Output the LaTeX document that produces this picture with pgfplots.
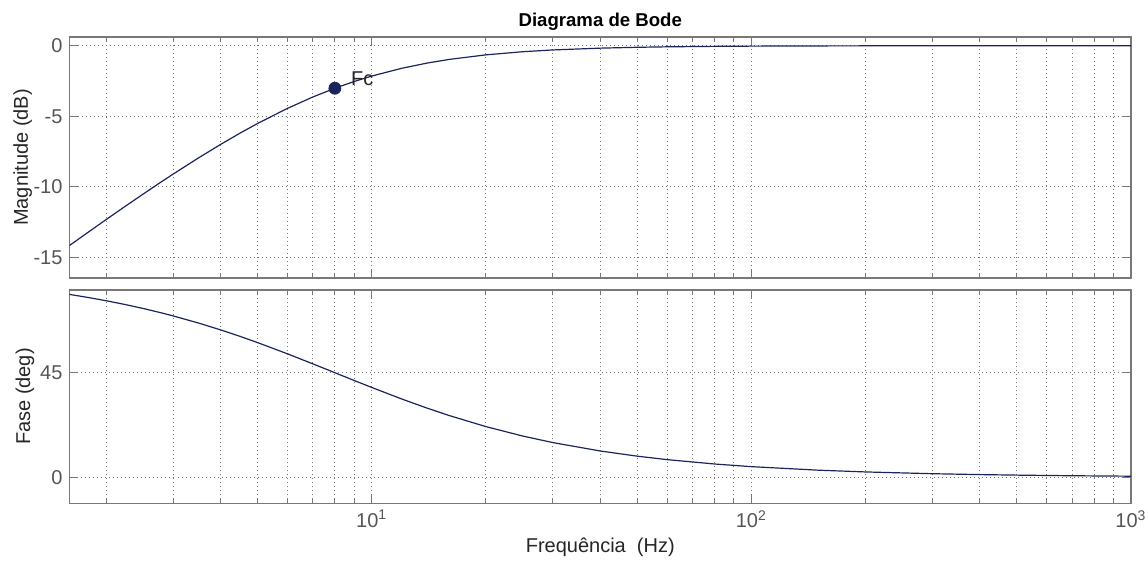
\documentclass[border=0pt]{standalone}
\usepackage{pgfplots}
\pgfplotsset{compat=1.18}
\usepackage{fontspec}
\setmainfont{Liberation Sans}
\definecolor{curve}{RGB}{28,36,92}
\definecolor{boxgray}{RGB}{120,120,120}
\definecolor{ticktext}{RGB}{85,85,85}
\definecolor{gridgray}{RGB}{115,115,115}

\pgfplotstableread{
f mag phase
1.6 -14.150 78.69
1.8 -13.170 77.32
2 -12.304 75.96
2.25 -11.349 74.29
2.5 -10.508 72.65
2.8 -9.620 70.71
3 -9.091 69.44
3.5 -7.941 66.37
4 -6.990 63.43
4.5 -6.191 60.64
5 -5.514 57.99
6 -4.437 53.13
7 -3.629 48.81
8 -3.010 45.00
9 -2.529 41.63
10 -2.148 38.66
12 -1.597 33.69
14 -1.227 29.74
16 -0.969 26.57
20 -0.645 21.80
25 -0.423 17.74
30 -0.298 14.93
40 -0.170 11.31
50 -0.110 9.09
60 -0.0765 7.59
80 -0.0432 5.71
100 -0.0277 4.57
150 -0.0123 3.05
200 -0.0069 2.29
300 -0.0031 1.53
400 -0.0017 1.15
500 -0.0011 0.92
700 -0.0006 0.65
1000 -0.0003 0.46
}\bode

\begin{document}
\begin{tikzpicture}
\useasboundingbox (0,0) rectangle (574pt,280.5pt);

\begin{axis}[
  scale only axis,
  width=530.75pt,
  xmode=log,
  xmin=1.6, xmax=1000,
  xtick={10,100,1000},
  minor xtick={2,3,4,5,6,7,8,9,20,30,40,50,60,70,80,90,200,300,400,500,600,700,800,900},
  xmajorgrids, xminorgrids, ymajorgrids,
  grid style={gridgray, line width=0.5pt, dash pattern=on 0.5pt off 1.5pt},
  minor grid style={gridgray, line width=0.5pt, dash pattern=on 0.5pt off 1.5pt},
  axis line style={boxgray, line width=0.6pt},
  every tick/.style={boxgray, line width=0.5pt},
  tick align=inside,
  xtick pos=both, ytick pos=both,
  major tick length=4.5pt, minor tick length=2.7pt,
  tick label style={font=\fontsize{10}{12}\selectfont, text=ticktext},
  label style={font=\fontsize{10}{12}\selectfont, text=black!85},
  at={(34.75pt,141.5pt)}, anchor=south west,
  height=120.5pt,
  ymin=-16.45, ymax=0.62,
  ytick={-15,-10,-5,0},
  yticklabels={-15,-10,-5,0},
  xticklabels={},
  ylabel={Magnitude (dB)},
  ylabel style={at={(axis description cs:-0.0441,0.5)}, anchor=center, rotate=0},
  title={Diagrama de Bode},
  title style={at={(axis description cs:0.5,1)}, anchor=base, yshift=-0.85pt, font=\fontsize{9.3}{11}\selectfont\bfseries},
]
\addplot[curve, line width=0.6pt] table[x=f, y=mag] {\bode};
\addplot[only marks, mark=*, mark size=3pt, mark options={fill=curve, draw=curve}] coordinates {(8,-3.01)};
\node[anchor=west, xshift=4.6pt, yshift=4.6pt, font=\fontsize{10}{12}\selectfont, text=black!85] at (axis cs:8,-3.01) {Fc};
\end{axis}

\begin{axis}[
  scale only axis,
  width=530.75pt,
  xmode=log,
  xmin=1.6, xmax=1000,
  xtick={10,100,1000},
  minor xtick={2,3,4,5,6,7,8,9,20,30,40,50,60,70,80,90,200,300,400,500,600,700,800,900},
  xmajorgrids, xminorgrids, ymajorgrids,
  grid style={gridgray, line width=0.5pt, dash pattern=on 0.5pt off 1.5pt},
  minor grid style={gridgray, line width=0.5pt, dash pattern=on 0.5pt off 1.5pt},
  axis line style={boxgray, line width=0.6pt},
  every tick/.style={boxgray, line width=0.5pt},
  tick align=inside,
  xtick pos=both, ytick pos=both,
  major tick length=4.5pt, minor tick length=2.7pt,
  tick label style={font=\fontsize{10}{12}\selectfont, text=ticktext},
  label style={font=\fontsize{10}{12}\selectfont, text=black!85},
  at={(34.75pt,28.85pt)}, anchor=south west,
  height=106.65pt,
  ymin=-11.2, ymax=80.6,
  ytick={0,45},
  yticklabels={0,45},
  xticklabels={10\textsuperscript{1},10\textsuperscript{2},10\textsuperscript{3}},
  ylabel={Fase (deg)},
  ylabel style={at={(axis description cs:-0.042,0.5)}, anchor=center, rotate=0},
  xlabel={Frequência\ \ (Hz)},
  xlabel style={at={(axis description cs:0.5,-0.233)}, anchor=base},
]
\addplot[curve, line width=0.6pt] table[x=f, y=phase] {\bode};
\end{axis}
\end{tikzpicture}
\end{document}
